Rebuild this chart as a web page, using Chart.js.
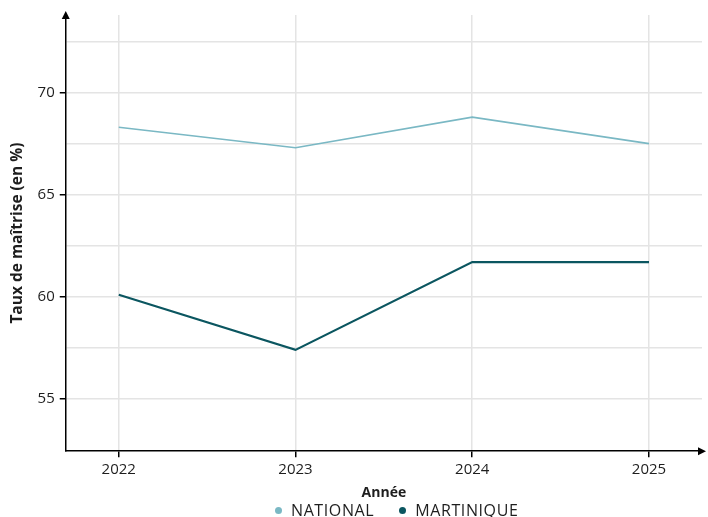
<!DOCTYPE html>
<html lang="fr">
<head>
<meta charset="utf-8">
<script src="https://cdn.jsdelivr.net/npm/chart.js@4.4.1/dist/chart.umd.min.js"></script>
<style>
  html, body { margin: 0; padding: 0; background: #fff; }
  #page { position: relative; width: 708px; height: 517px; overflow: hidden; }
  #wrap { position: absolute; left: 0; top: 0; width: 708px; height: 500px; }
  #legend {
    position: absolute; left: 275px; top: 502px; height: 16px;
    display: flex; align-items: center; gap: 25px;
    font-family: "Open Sans", "Noto Sans", sans-serif; font-size: 16px;
    color: #1e1e1e; letter-spacing: 0.6px; line-height: 16px;
  }
  .item { display: flex; align-items: center; gap: 9px; }
  .dot { width: 7px; height: 7px; border-radius: 50%; }
</style>
</head>
<body>
<div id="page">
  <div id="wrap"><canvas id="chart"></canvas></div>
  <div id="legend"></div>
</div>
<script>
// ─── Data ─────────────────────────────────────────────────────────
const years = [2022, 2023, 2024, 2025];
const national = [68.3, 67.3, 68.8, 67.5];
const martinique = [60.1, 57.4, 61.7, 61.7];
const yTicks = [55, 57.5, 60, 62.5, 65, 67.5, 70, 72.5];

const COLORS = {
    national: '#7ab8c4',
    martinique: '#0b5660',
    projection: '#6fb3bb',
    grid: '#e4e4e4',
    text: '#1e1e1e',
};

const FONT = '"Open Sans", "Noto Sans", sans-serif';

// ─── Axis arrows ──────────────────────────────────────────────────
const arrows = {
    id: 'arrows',
    afterDraw(chart) {
        const { ctx, chartArea: a } = chart;
        ctx.save();
        ctx.fillStyle = '#000';
        ctx.beginPath();
        ctx.moveTo(a.left, a.top - 4);
        ctx.lineTo(a.left - 4, a.top + 4);
        ctx.lineTo(a.left + 4, a.top + 4);
        ctx.closePath();
        ctx.fill();
        ctx.beginPath();
        ctx.moveTo(a.right + 4, a.bottom);
        ctx.lineTo(a.right - 4, a.bottom - 4);
        ctx.lineTo(a.right - 4, a.bottom + 4);
        ctx.closePath();
        ctx.fill();
        ctx.restore();
    },
};

const toPoints = (vals) => vals.map((v, i) => ({ x: years[i], y: v }));

const chart = new Chart(document.getElementById('chart'), {
    type: 'line',
    data: {
        datasets: [
            { label: 'NATIONAL', data: toPoints(national), borderColor: COLORS.national, backgroundColor: COLORS.national, borderWidth: 1.6, pointRadius: 0, tension: 0 },
            { label: 'MARTINIQUE', data: toPoints(martinique), borderColor: COLORS.martinique, backgroundColor: COLORS.martinique, borderWidth: 2.2, pointRadius: 0, tension: 0 },
            { label: 'projection', data: toPoints(martinique).slice(2), borderColor: COLORS.projection, borderWidth: 1, borderDash: [4, 6], pointRadius: 0, tension: 0 },
        ],
    },
    options: {
        responsive: true,
        maintainAspectRatio: false,
        animation: false,
        layout: { padding: { top: 15, right: 6, left: 8, bottom: -1 } },
        plugins: {
            tooltip: { enabled: false },
            legend: { display: false },
        },
        scales: {
            x: {
                type: 'linear',
                min: 2021.7,
                max: 2025.3,
                afterBuildTicks: (s) => { s.ticks = years.map(v => ({ value: v })); },
                border: { display: true, color: '#000', width: 1.5 },
                grid: { color: COLORS.grid, lineWidth: 1.5, tickLength: 6, tickColor: '#000' },
                ticks: { color: COLORS.text, font: { family: FONT, size: 15 }, padding: 4, callback: (v) => String(v) },
                title: { display: true, text: 'Année', color: COLORS.text, font: { family: FONT, size: 14, weight: 'bold' }, padding: { top: 1, bottom: 0 } },
            },
            y: {
                min: 52.44,
                max: 73.8,
                afterBuildTicks: (s) => { s.ticks = yTicks.map(v => ({ value: v })); },
                border: { display: true, color: '#000', width: 1.5 },
                grid: {
                    color: COLORS.grid,
                    lineWidth: 1.5,
                    tickLength: 6,
                    tickColor: (c) => (c.tick && c.tick.value % 5 === 0 ? '#000' : 'rgba(0,0,0,0)'),
                },
                ticks: {
                    color: COLORS.text,
                    font: { family: FONT, size: 15 },
                    padding: 5,
                    callback: (v) => (v % 5 === 0 ? String(v) : ''),
                },
                title: { display: true, text: 'Taux de maîtrise (en %)', color: COLORS.text, font: { family: FONT, size: 15.5, weight: 'bold' }, padding: { top: 0, bottom: 6 } },
            },
        },
    },
    plugins: [arrows],
});

// ─── Legend (HTML, built from the datasets) ───────────────────────
document.getElementById('legend').innerHTML = chart.data.datasets
    .filter(d => d.label !== 'projection')
    .map(d => `<span class="item"><span class="dot" style="background:${d.borderColor}"></span>${d.label}</span>`)
    .join('');
</script>
</body>
</html>
